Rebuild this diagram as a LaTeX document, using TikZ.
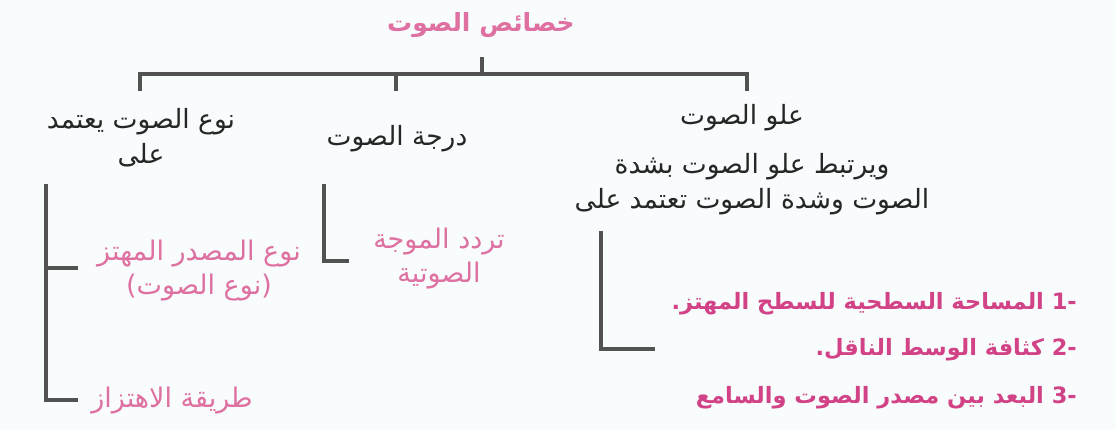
\documentclass[tikz,border=0pt]{standalone}
\usepackage{fontspec}
\usepackage{xcolor}
\usepackage{tikz}
\usetikzlibrary{positioning}
\TeXXeTstate=1
\newfontfamily\arabicfont[Script=Arabic]{DejaVu Sans}
\definecolor{papercolor}{RGB}{248,252,252}
\definecolor{titlecolor}{RGB}{222,112,162}
\definecolor{itemcolor}{RGB}{210,66,134}
\definecolor{inkcolor}{RGB}{38,38,38}
\definecolor{linecolor}{RGB}{82,82,82}

\begin{document}
\begin{tikzpicture}[
    x=1pt, y=-1pt,
    head/.style={font=\arabicfont\bfseries\fontsize{25}{30}\selectfont, text=titlecolor, inner sep=0pt},
    main/.style={font=\arabicfont\fontsize{26.5}{35}\selectfont, text=inkcolor, align=center, inner sep=0pt},
    sub/.style={font=\arabicfont\fontsize{27}{34}\selectfont, text=titlecolor, align=center, inner sep=0pt},
    item/.style={font=\arabicfont\bfseries\fontsize{22.5}{30}\selectfont, text=itemcolor, anchor=east, inner sep=0pt},
    bracket/.style={draw=linecolor, line width=3.5pt}
]
\fill[papercolor] (0,0) rectangle (1116,430);
\useasboundingbox (0,0) rectangle (1116,430);

% Nodes
\node[head] (title) at (481,25) {\beginR خصائص الصوت\endR};
\node[main] (type) at (141,138) {\beginR نوع الصوت يعتمد\endR\\\beginR على\endR};
\node[main] (pitch) at (397,139) {\beginR درجة الصوت\endR};
\node[main] (loud) at (742,118) {\beginR علو الصوت\endR};
\node[main] (loudnote) at (752,184) {\beginR ويرتبط علو الصوت بشدة\endR\\\beginR الصوت وشدة الصوت تعتمد على\endR};
\node[sub] (source) at (199,271) {\beginR نوع المصدر المهتز\endR\\\beginR (نوع الصوت)\endR};
\node[sub] (method) at (172,401) {\beginR طريقة الاهتزاز\endR};
\node[sub] (freq) at (439,259) {\beginR تردد الموجة\endR\\\beginR الصوتية\endR};
\node[item] (area) at (1077,304) {\beginR\beginL -1\endL{} المساحة السطحية للسطح المهتز.\endR};
\node[item] (density) at (1077,350) {\beginR\beginL -2\endL{} كثافة الوسط الناقل.\endR};
\node[item] (distance) at (1077,398) {\beginR\beginL -3\endL{} البعد بين مصدر الصوت والسامع\endR};

% Coordinates
\coordinate (hub) at (482,57);
\coordinate (bar) at (482,74);
\coordinate (typetop) at (140,91);
\coordinate (pitchtop) at (396,91);
\coordinate (loudtop) at (747,91);
\coordinate (typeline) at (46,184);
\coordinate (sourcetick) at (78,268);
\coordinate (methodtick) at (78,400);
\coordinate (pitchline) at (324,184);
\coordinate (freqtick) at (349,261);
\coordinate (loudline) at (601,231);
\coordinate (listtick) at (655,349);

% Lines
\draw[bracket] (hub) -- (bar);
\draw[bracket] (typetop) -- (typetop |- bar) -- (loudtop |- bar) -- (loudtop);
\draw[bracket] (pitchtop |- bar) -- (pitchtop);
\draw[bracket] (typeline) |- (methodtick);
\draw[bracket] (typeline |- sourcetick) -- (sourcetick);
\draw[bracket] (pitchline) |- (freqtick);
\draw[bracket] (loudline) |- (listtick);

\end{tikzpicture}
\end{document}
